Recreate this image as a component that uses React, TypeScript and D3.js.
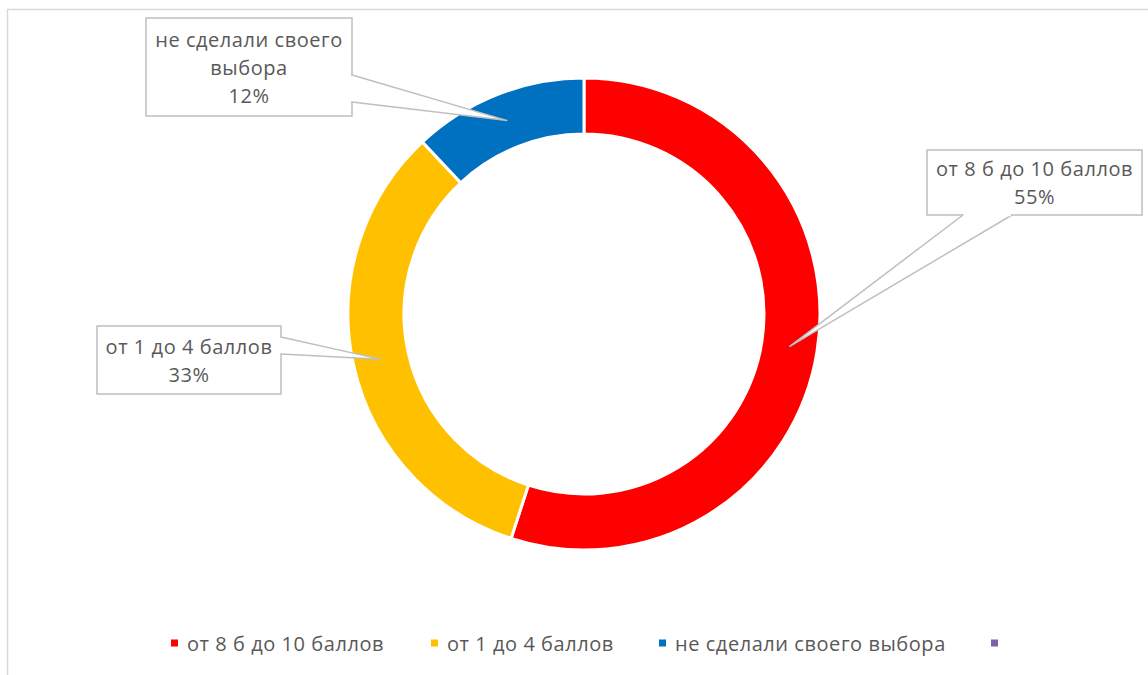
import React from "react";
import * as d3 from "d3";

const categories = ["от 8 б до 10 баллов", "от 1 до 4 баллов", "не сделали своего выбора", ""];
const values = [55, 33, 12, 0];
const colors = ["#FF0000", "#FFC000", "#0070C0", "#7F60A8"];
const labelLines = [["от 8 б до 10 баллов", "55%"], ["от 1 до 4 баллов", "33%"], ["не сделали своего", "выбора", "12%"]];

const W = 1148, H = 675;
const cx = 584, cy = 314, rOuter = 236, rInner = 180;
const FONT = "'Open Sans', 'Noto Sans', sans-serif";
const FS = 20;
const LS = 0.55;

// callout boxes and wedge base points (layout)
const boxes = [
  { x: 927, y: 150, w: 215, h: 65, base: [[963, 215], [1012, 215]], side: "bottom" },
  { x: 97, y: 326, w: 184, h: 68, base: [[281, 337], [281, 354]], side: "right" },
  { x: 146, y: 18, w: 206, h: 98, base: [[352, 75], [352, 102]], side: "right" },
];

export default function App() {
  const pie = d3.pie<number>().sort(null).value((d) => d)(values.slice(0, 3));
  const arc = d3.arc<d3.PieArcDatum<number>>().innerRadius(rInner).outerRadius(rOuter);

  const legendX = [171, 431, 659, 991];

  return (
    <svg width={W} height={H} style={{ position: "absolute", left: 0, top: 0 }}>
      <rect x={0} y={0} width={W} height={H} fill="#fff" />
      <path d={`M7.5,${H} L7.5,9.5 L${W},9.5`} fill="none" stroke="#d9d9d9" strokeWidth={1.5} />
      <g transform={`translate(${cx},${cy})`}>
        {pie.map((p, i) => (
          <path key={i} d={arc(p) || ""} fill={colors[i]} stroke="#fff" strokeWidth={3} />
        ))}
      </g>
      {pie.map((p, i) => {
        const b = boxes[i];
        const c = arc.centroid(p);
        const t = [cx + c[0], cy + c[1]];
        const lines = labelLines[i];
        const lh = 28;
        const startY = b.y + b.h / 2 - ((lines.length - 1) * lh) / 2;
        const pts = `${b.base[0][0]},${b.base[0][1]} ${t[0]},${t[1]} ${b.base[1][0]},${b.base[1][1]}`;
        return (
          <g key={i}>
            <rect x={b.x} y={b.y} width={b.w} height={b.h} fill="#fff" stroke="#bfbfbf" strokeWidth={1.5} />
            <polygon points={pts} fill="#fff" stroke="none" />
            <polyline points={pts} fill="none" stroke="#bfbfbf" strokeWidth={1.5} />
            {b.side === "bottom" ? (
              <line x1={b.base[0][0] + 1} y1={b.base[0][1]} x2={b.base[1][0] - 1} y2={b.base[1][1]} stroke="#fff" strokeWidth={2.5} />
            ) : (
              <line x1={b.base[0][0]} y1={b.base[0][1] + 1} x2={b.base[1][0]} y2={b.base[1][1] - 1} stroke="#fff" strokeWidth={2.5} />
            )}
            {lines.map((l, j) => (
              <text
                key={j}
                x={b.x + b.w / 2}
                y={startY + j * lh}
                textAnchor="middle"
                dominantBaseline="central"
                fontFamily={FONT}
                fontSize={FS}
                letterSpacing={LS}
                fill="#595959"
              >
                {l}
              </text>
            ))}
          </g>
        );
      })}
      {categories.map((c, i) => (
        <g key={i} transform={`translate(${legendX[i]},643)`}>
          <rect x={0} y={-3.5} width={7} height={7} fill={colors[i]} />
          <text x={16} y={0} dominantBaseline="central" fontFamily={FONT} fontSize={FS} letterSpacing={LS} fill="#595959">
            {c}
          </text>
        </g>
      ))}
    </svg>
  );
}
